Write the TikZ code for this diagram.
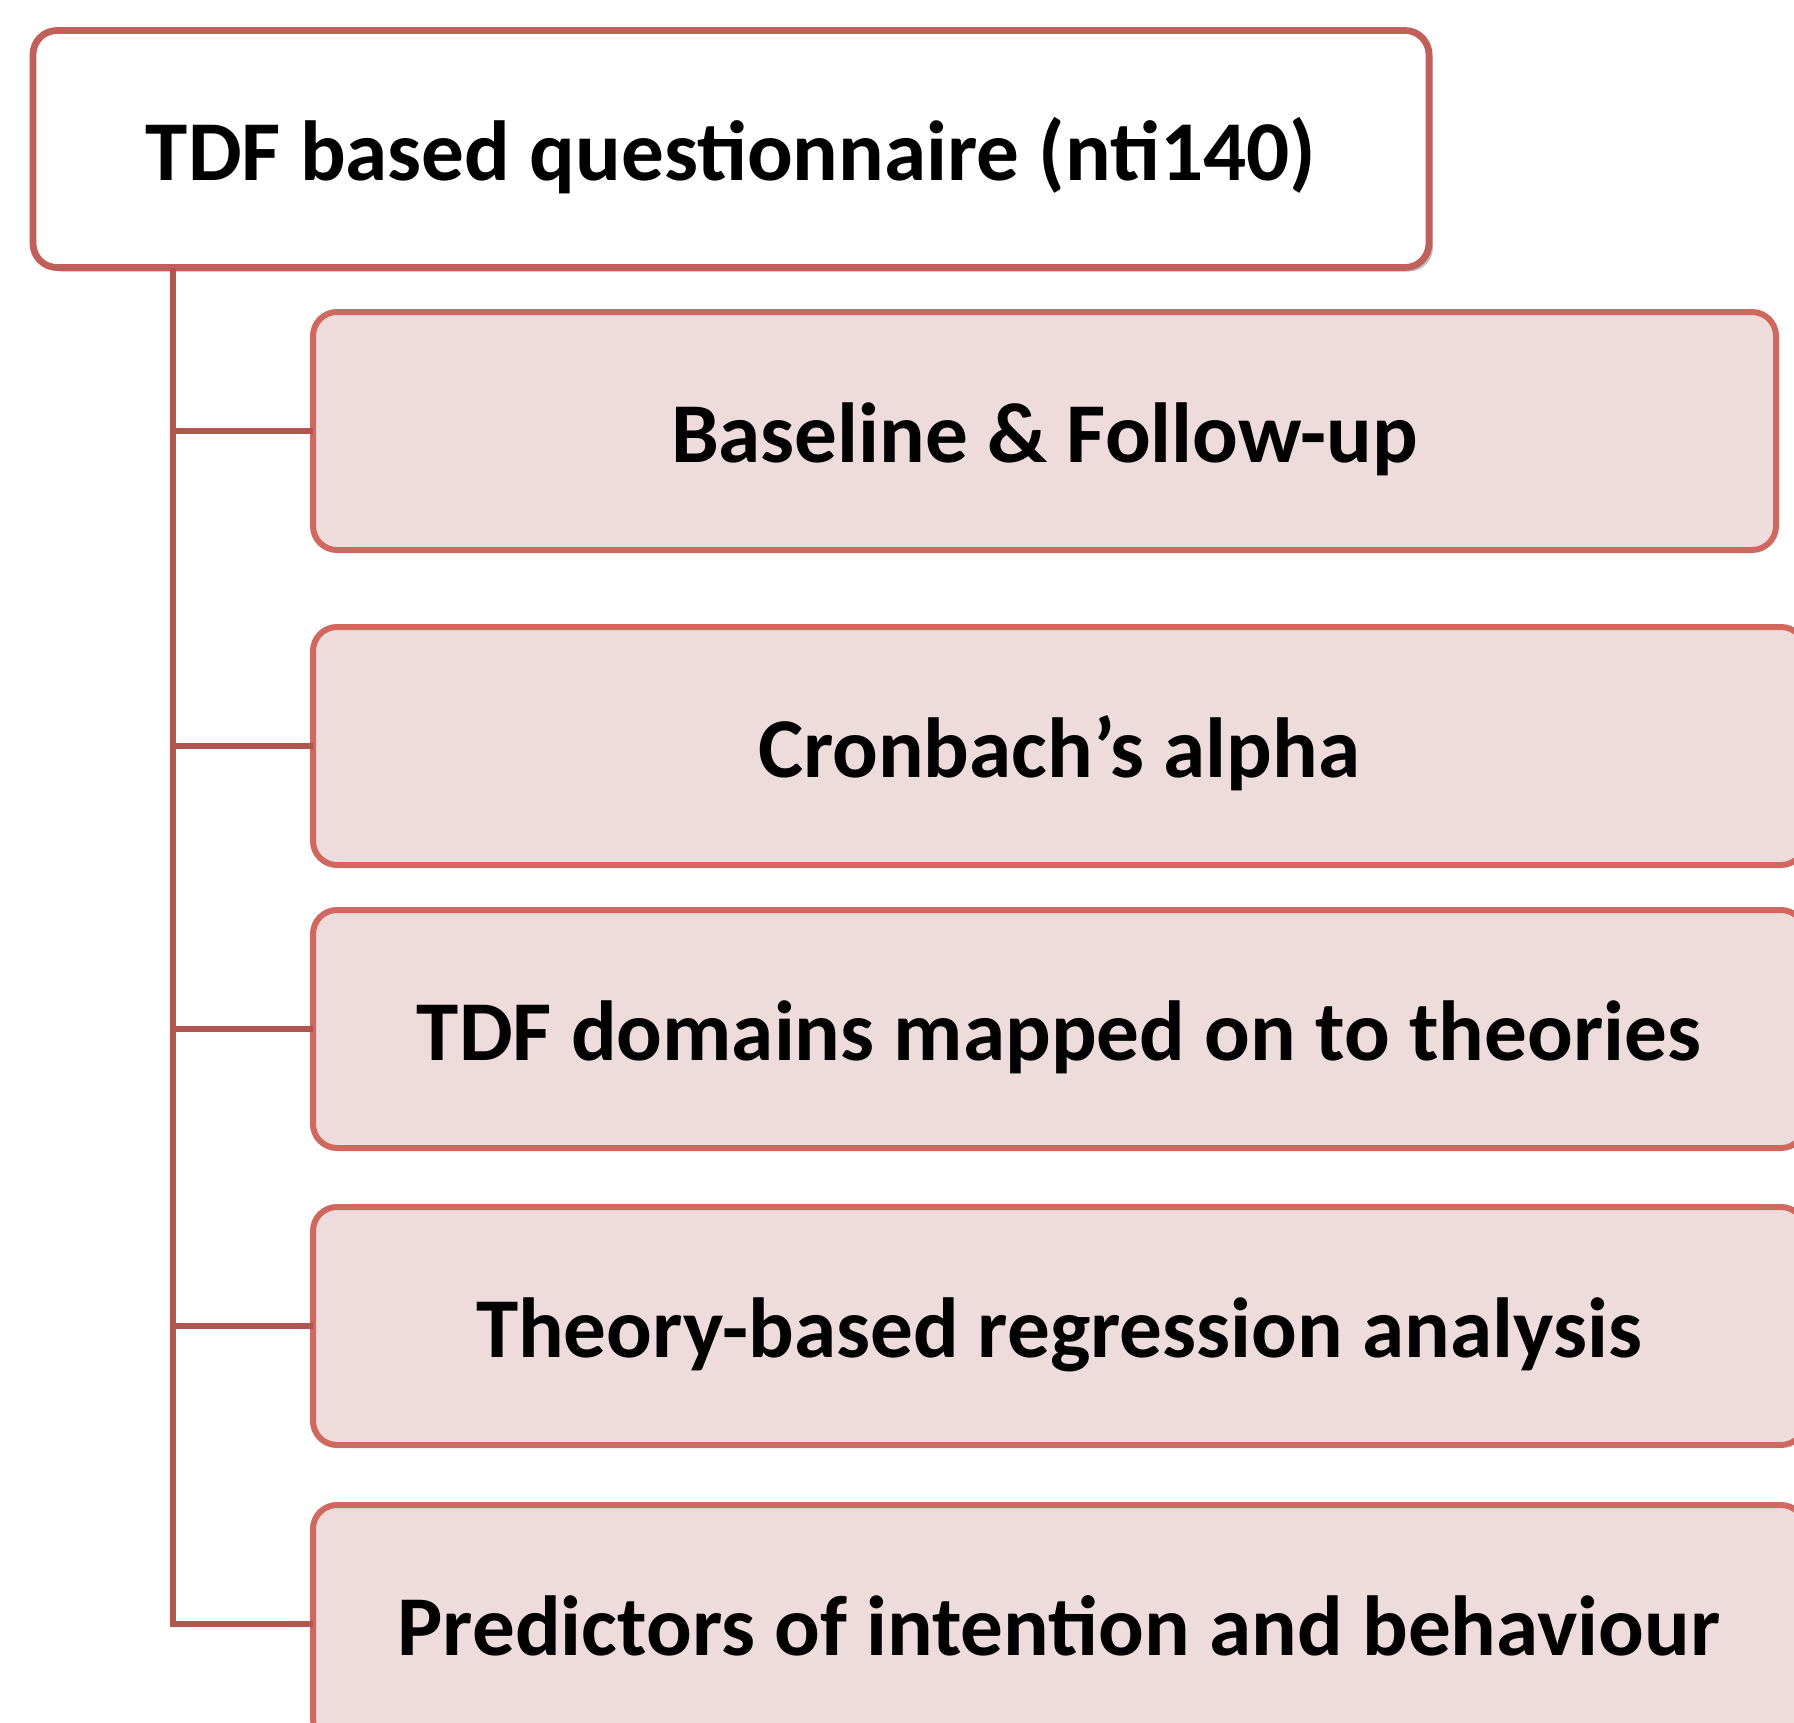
\documentclass[tikz,border=0pt]{standalone}
\usepackage{fontspec}
\setmainfont{Carlito}
\usetikzlibrary{shadows}
\definecolor{topborder}{HTML}{C1605B}
\definecolor{childborder}{HTML}{D0685F}
\definecolor{childfill}{HTML}{EEDCDC}
\definecolor{connred}{HTML}{B0554F}
\tikzset{
  rootbox/.style={draw=topborder, fill=white, line width=3.4pt, rounded corners=12pt,
    minimum width=698pt, minimum height=118.5pt, inner sep=0pt, outer sep=0pt,
    text height=36pt, text depth=5pt,
    font=\fontsize{42.6}{50}\selectfont\bfseries,
    drop shadow={shadow xshift=2pt, shadow yshift=-2pt, opacity=0.45, fill=black!55}},
  childbox/.style={draw=childborder, fill=childfill, line width=3pt, rounded corners=12pt,
    minimum height=119pt, inner sep=0pt, outer sep=0pt,
    text height=36pt, text depth=5pt,
    font=\fontsize{42.6}{50}\selectfont\bfseries},
  conn/.style={draw=connred, line width=3.4pt}
}
\begin{document}
\begin{tikzpicture}[x=0.5pt,y=-0.5pt]
\useasboundingbox (0,0) rectangle (1794,1723);
\clip (0,0) rectangle (1794,1723);
\node[rootbox] (root) at (731,149) {TDF based questionnaire (nti140)};
\node[childbox, minimum width=731.5pt] (b1) at (1044.5,431) {Baseline \& Follow-up};
\node[childbox, minimum width=746pt] (b2) at (1059,746) {Cronbach’s alpha};
\node[childbox, minimum width=746pt] (b3) at (1059,1029) {TDF domains mapped on to theories};
\node[childbox, minimum width=746pt] (b4) at (1059,1326) {Theory-based regression analysis};
\node[childbox, minimum width=746pt] (b5) at (1059,1624) {Predictors of intention and behaviour};
\coordinate (trunk) at (173,268);
\draw[conn] (trunk) |- (b5.west);
\draw[conn] (trunk |- b1.west) -- (b1.west);
\draw[conn] (trunk |- b2.west) -- (b2.west);
\draw[conn] (trunk |- b3.west) -- (b3.west);
\draw[conn] (trunk |- b4.west) -- (b4.west);
\end{tikzpicture}
\end{document}
